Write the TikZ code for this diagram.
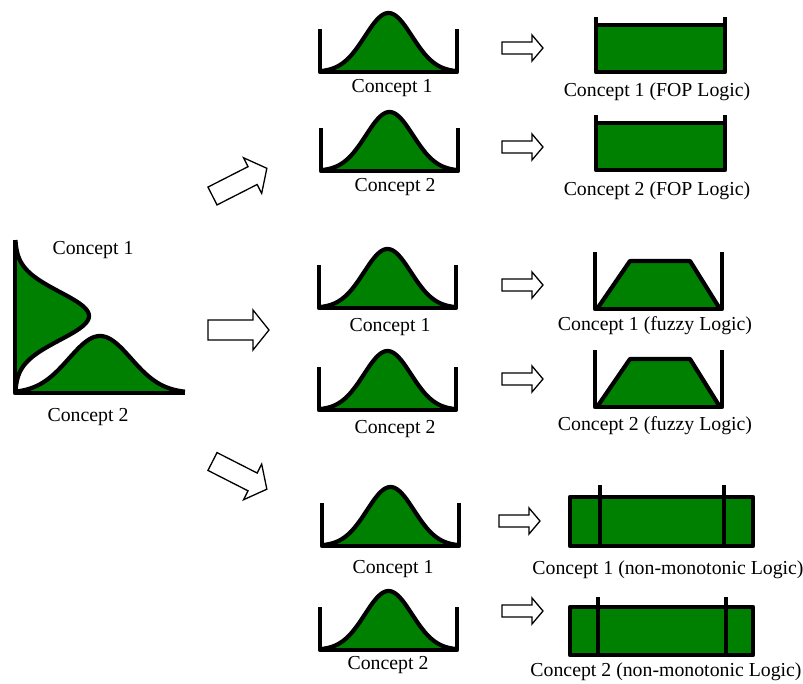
\documentclass[tikz,border=0pt]{standalone}
\usepackage{fontspec}
\setmainfont{Liberation Serif}
\definecolor{leafgreen}{RGB}{0,128,0}
\tikzset{
  thickline/.style={line width=4.2pt, line join=round},
  blockarrow/.style={draw, line width=1.3pt, fill=white, line join=miter},
  caption/.style={font=\fontsize{19.8}{22}\selectfont, inner sep=0pt},
}
% bell curve between two posts: #1 left x, #2 baseline y (measured downwards)
\newcommand{\bellplot}[2]{%
  \begin{scope}[shift={(#1,-#2)}]
    \fill[leafgreen] plot[domain=0:137,samples=80] (\x,{59*exp(-0.5*((\x-68.5)/23.5)^2)}) -- cycle;
    \draw[thickline] plot[domain=0:137,samples=80] (\x,{59*exp(-0.5*((\x-68.5)/23.5)^2)});
    \draw[thickline] (0,43) -- (0,0) -- (137,0) -- (137,43);
  \end{scope}}
% small block arrow: #1 tail x, #2 centre y
\newcommand{\smallarrow}[2]{%
  \draw[blockarrow, shift={(#1,-#2)}] (0,6) -- (30,6) -- (30,13) -- (41,0) -- (30,-13) -- (30,-6) -- (0,-6) -- cycle;}
% large block arrow: #1 tail x, #2 tail y, #3 angle
\newcommand{\bigarrow}[3]{%
  \draw[blockarrow, shift={(#1,-#2)}, rotate=#3] (0,10) -- (45,10) -- (45,20) -- (61,0) -- (45,-20) -- (45,-10) -- (0,-10) -- cycle;}
\begin{document}
\begin{tikzpicture}[x=1pt,y=1pt]
\useasboundingbox[fill=white] (0,0) rectangle (803,-683);

% ---- two overlapping concepts on the left ----
\fill[leafgreen] (15,-240) -- plot[domain=240:393,samples=90] ({15+74*exp(-0.5*((\x-316)/24)^2)},-\x) -- (15,-393) -- cycle;
\fill[leafgreen] plot[domain=15:185,samples=90] (\x,{-393+57*exp(-0.5*((\x-100)/31)^2)}) -- cycle;
\draw[thickline] plot[domain=240:393,samples=90] ({15+74*exp(-0.5*((\x-316)/24)^2)},-\x);
\draw[thickline] plot[domain=15:185,samples=90] (\x,{-393+57*exp(-0.5*((\x-100)/31)^2)});
\draw[thickline] (15,-240) -- (15,-393) -- (185,-393);
\node[caption] (lc1) at (93,-250) {Concept 1};
\node[caption] (lc2) at (88,-417) {Concept 2};

% ---- large arrows ----
\bigarrow{212.5}{196}{27}
\bigarrow{208}{330}{0}
\bigarrow{212.5}{461.5}{-27}

% ---- middle column: single concepts ----
\bellplot{320}{72}
\bellplot{321}{171}
\bellplot{319}{308}
\bellplot{319}{410}
\bellplot{322}{546}
\bellplot{320}{650}
\node[caption] (m1) at (392,-88) {Concept 1};
\node[caption] (m2) at (395,-187) {Concept 2};
\node[caption] (m3) at (390,-327) {Concept 1};
\node[caption] (m4) at (395,-429) {Concept 2};
\node[caption] (m5) at (393,-569) {Concept 1};
\node[caption] (m6) at (388,-665) {Concept 2};

% ---- small arrows ----
\smallarrow{502}{48}
\smallarrow{502}{147}
\smallarrow{502}{285}
\smallarrow{502}{379}
\smallarrow{499}{521}
\smallarrow{502}{611}

% ---- FOP logic ----
\fill[leafgreen] (596,-25) rectangle (725,-72);
\draw[thickline] (596,-17) -- (596,-72) -- (725,-72) -- (725,-17);
\draw[thickline] (596,-25) -- (725,-25);
\fill[leafgreen] (596,-123) rectangle (725,-170);
\draw[thickline] (596,-115) -- (596,-170) -- (725,-170) -- (725,-115);
\draw[thickline] (596,-123) -- (725,-123);
\node[caption] (r1) at (657,-92) {Concept 1 (FOP Logic)};
\node[caption] (r2) at (657,-191) {Concept 2 (FOP Logic)};

% ---- fuzzy logic ----
\fill[leafgreen] (597,-309) -- (630,-261) -- (690,-261) -- (720,-309) -- cycle;
\draw[thickline] (595,-252) -- (595,-309) -- (722,-309) -- (722,-252);
\draw[thickline] (597,-309) -- (630,-261) -- (690,-261) -- (720,-309);
\fill[leafgreen] (597,-407) -- (630,-359) -- (690,-359) -- (720,-407) -- cycle;
\draw[thickline] (595,-350) -- (595,-407) -- (722,-407) -- (722,-350);
\draw[thickline] (597,-407) -- (630,-359) -- (690,-359) -- (720,-407);
\node[caption] (r3) at (655,-326) {Concept 1 (fuzzy Logic)};
\node[caption] (r4) at (655,-426) {Concept 2 (fuzzy Logic)};

% ---- non-monotonic logic ----
\filldraw[thickline, fill=leafgreen] (570,-497) rectangle (753,-546);
\draw[thickline] (600,-485) -- (600,-546);
\draw[thickline] (724,-485) -- (724,-546);
\filldraw[thickline, fill=leafgreen] (570,-607) rectangle (753,-655);
\draw[thickline] (598,-597) -- (598,-655);
\draw[thickline] (726,-597) -- (726,-655);
\node[caption] (r5) at (668,-570) {Concept 1 (non-monotonic Logic)};
\node[caption] (r6) at (666,-672) {Concept 2 (non-monotonic Logic)};
\end{tikzpicture}
\end{document}
